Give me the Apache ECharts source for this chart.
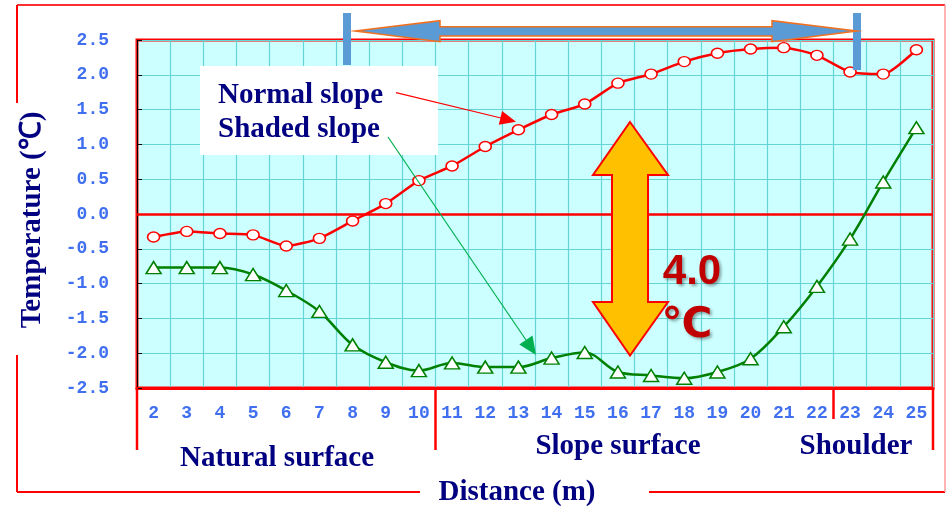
<!DOCTYPE html>
<html>
<head>
<meta charset="utf-8">
<script src="https://cdn.jsdelivr.net/npm/echarts@6/dist/echarts.min.js"></script>
<style>
  html, body { margin: 0; padding: 0; background: #ffffff; }
  #chart { width: 946px; height: 507px; }
</style>
</head>
<body>
<div id="chart"></div>
<script>
// Distance along the profile (m)
const categories = ['2','3','4','5','6','7','8','9','10','11','12','13','14','15','16','17','18','19','20','21','22','23','24','25'];
// Ground temperature (℃)
const normalSlope = [-0.33,-0.25,-0.28,-0.30,-0.46,-0.35,-0.10,0.15,0.48,0.69,0.97,1.21,1.43,1.58,1.88,2.01,2.19,2.31,2.37,2.39,2.28,2.04,2.01,2.36];
const shadedSlope = [-0.77,-0.77,-0.77,-0.87,-1.10,-1.40,-1.88,-2.13,-2.25,-2.14,-2.20,-2.20,-2.07,-1.99,-2.27,-2.32,-2.36,-2.27,-2.08,-1.62,-1.04,-0.36,0.46,1.24];
const seriesNames = ['Normal slope', 'Shaded slope'];
const sectionNames = ['Natural surface', 'Slope surface', 'Shoulder'];
const tempDifference = '4.0';

const NAVY = '#000080';
const BLUE_LABEL = '#4070f0';
const RED = '#ff0000';
const serif = '"Liberation Serif", "Times New Roman", serif';
const mono = '"Liberation Mono", "Courier New", monospace';
const TITLE_SIZE = 29;

const chart = echarts.init(document.getElementById('chart'));

function line(x1, y1, x2, y2, color, width) {
  return { type: 'line', z: 50, shape: { x1, y1, x2, y2 }, style: { stroke: color, lineWidth: width } };
}
function label(text, x, y, size, color, extra) {
  return Object.assign({
    type: 'text', z: 60, x, y,
    style: { text, fill: color, font: 'bold ' + size + 'px ' + serif, align: 'center', verticalAlign: 'middle' }
  }, extra || {});
}

const graphics = [
  // outer frame
  line(17, 5, 945, 5, '#ff3030', 2),
  line(17, 5, 17, 103, RED, 2),
  line(17, 355, 17, 492, RED, 2),
  line(17, 492, 420, 492, RED, 2),
  line(649, 492, 945, 492, RED, 2),
  line(945, 5, 945, 492, '#ff9a9a', 1.5),
  // section separators below the axis
  line(137, 388, 137, 450, RED, 2.5),
  line(435.5, 388, 435.5, 450, RED, 2.5),
  line(833.5, 388, 833.5, 419, RED, 2.5),
  line(933, 388, 933, 450, RED, 2.5),
  // section names
  label(sectionNames[0], 277, 459, TITLE_SIZE, NAVY),
  label(sectionNames[1], 618, 447, TITLE_SIZE, NAVY),
  label(sectionNames[2], 856, 447, TITLE_SIZE, NAVY),
  // axis titles
  label('Distance (m)', 517, 493, TITLE_SIZE, NAVY),
  label('Temperature (℃)', 33, 220, TITLE_SIZE, NAVY, { rotation: Math.PI / 2 }),
  // legend box
  { type: 'rect', z: 40, shape: { x: 200, y: 66, width: 238, height: 89 }, style: { fill: '#ffffff' } },
  { type: 'text', z: 60, x: 218, y: 96, style: { text: seriesNames[0], fill: NAVY, font: 'bold ' + TITLE_SIZE + 'px ' + serif, align: 'left', verticalAlign: 'middle' } },
  { type: 'text', z: 60, x: 218, y: 130, style: { text: seriesNames[1], fill: NAVY, font: 'bold ' + TITLE_SIZE + 'px ' + serif, align: 'left', verticalAlign: 'middle' } },
  // pointer from legend to normal slope curve
  line(396, 92.7, 501, 118, RED, 1.2),
  { type: 'polygon', z: 50, shape: { points: [[516, 121.7], [498.8, 124.7], [502.1, 111.1]] }, style: { fill: RED } },
  // pointer from legend to shaded slope curve
  line(388, 137, 526, 340, '#00b050', 1.2),
  { type: 'polygon', z: 50, shape: { points: [[536, 355], [519.3, 344.6], [532.5, 335.6]] }, style: { fill: '#00b050' } },
  // span markers and double arrow at the top
  { type: 'rect', z: 45, shape: { x: 343, y: 13, width: 8, height: 52 }, style: { fill: '#5b9bd5' } },
  { type: 'rect', z: 45, shape: { x: 853, y: 13, width: 8, height: 57 }, style: { fill: '#5b9bd5' } },
  { type: 'polygon', z: 46, shape: { points: [[355, 31], [440, 20.7], [440, 26.7], [772, 26.7], [772, 20.7], [857, 31], [772, 41.7], [772, 36], [440, 36], [440, 41.7]] },
    style: { fill: '#5b9bd5', stroke: '#f07020', lineWidth: 1.5 } },
  // vertical double arrow showing the temperature gap
  { type: 'polygon', z: 46, shape: { points: [[630, 122], [668, 175], [648, 175], [648, 302], [668, 302], [630, 355.5], [593, 302], [612, 302], [612, 175], [593, 175]] },
    style: { fill: '#ffc000', stroke: RED, lineWidth: 2 } },
  { type: 'text', z: 60, x: 692, y: 272, style: { text: tempDifference, fill: '#c00000', font: 'bold 42px "Liberation Sans", Arial, sans-serif', align: 'center', verticalAlign: 'middle',
    textShadowColor: 'rgba(0,0,0,0.35)', textShadowOffsetX: 2, textShadowOffsetY: 2, textShadowBlur: 3 } },
  { type: 'text', z: 60, x: 687, y: 325, style: { text: '℃', fill: '#c00000', font: 'bold 42px "Liberation Sans", "DejaVu Sans", sans-serif', align: 'center', verticalAlign: 'middle',
    textShadowColor: 'rgba(0,0,0,0.35)', textShadowOffsetX: 2, textShadowOffsetY: 2, textShadowBlur: 3 } }
];

chart.setOption({
  animation: false,
  backgroundColor: '#ffffff',
  grid: {
    left: 137, top: 40, right: 13, bottom: 119,
    show: true, backgroundColor: '#ccffff', borderColor: RED, borderWidth: 3
  },
  xAxis: {
    type: 'category',
    data: categories,
    boundaryGap: true,
    axisLine: { show: true, onZero: false, lineStyle: { color: RED, width: 3 } },
    axisTick: { show: false },
    splitLine: { show: true, lineStyle: { color: '#66d4d4', width: 1.2 } },
    axisLabel: { color: BLUE_LABEL, fontFamily: mono, fontWeight: 'bold', fontSize: 18, margin: 16, interval: 0 }
  },
  yAxis: {
    type: 'value',
    min: -2.5, max: 2.5, interval: 0.5,
    axisLine: { show: true, lineStyle: { color: '#000000', width: 1 } },
    axisTick: { show: true, inside: true, length: 5, lineStyle: { color: '#000000' } },
    splitLine: { show: true, lineStyle: { color: '#66d4d4', width: 1.2 } },
    axisLabel: { color: BLUE_LABEL, fontFamily: mono, fontWeight: 'bold', fontSize: 18, margin: 28,
      formatter: v => v.toFixed(1) }
  },
  series: [
    {
      name: seriesNames[0], type: 'line', data: normalSlope, smooth: 0.2, z: 10,
      symbol: 'circle', symbolSize: [12, 10],
      lineStyle: { color: RED, width: 2.5 },
      itemStyle: { color: '#ffffff', borderColor: RED, borderWidth: 1.5 },
      markLine: {
        silent: true, symbol: 'none', label: { show: false },
        lineStyle: { color: RED, width: 2.5, type: 'solid' },
        data: [{ yAxis: 0 }]
      }
    },
    {
      name: seriesNames[1], type: 'line', data: shadedSlope, smooth: 0.35, z: 10,
      symbol: 'triangle', symbolSize: [15, 12],
      lineStyle: { color: '#008000', width: 2.5 },
      itemStyle: { color: '#ffffff', borderColor: '#008000', borderWidth: 1.5 }
    }
  ],
  graphic: graphics
});
</script>
</body>
</html>
